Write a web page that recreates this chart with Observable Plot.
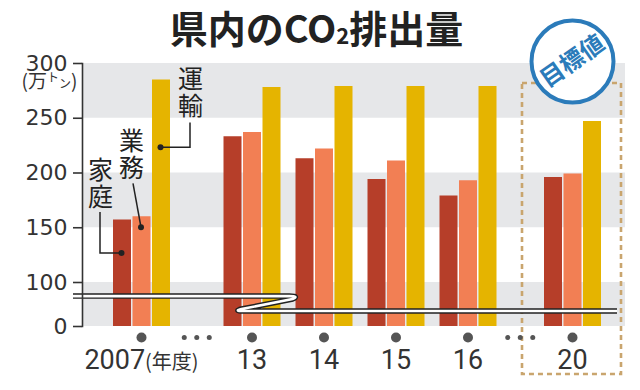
<!DOCTYPE html>
<html><head><meta charset="utf-8">
<script src="https://cdn.jsdelivr.net/npm/d3@7"></script>
<script src="https://cdn.jsdelivr.net/npm/@observablehq/plot@0.6"></script>
<style>body{margin:0;background:#fff}</style>
</head><body><div id="chart"></div>
<script>
// ---- data ----
const title = "県内のCO₂排出量";
const unitLabel = "(万トン)";
const years = [2007, 2013, 2014, 2015, 2016, 2020];
const yearLabels = ["2007(年度)", "13", "14", "15", "16", "20"];
const series = ["家庭", "業務", "運輸"];
const household = [157, 233, 213, 194, 179, 196];
const business = [160, 237, 222, 211, 193, 199];
const transport = [285, 278, 279, 279, 279, 247];
const gapYears = [2010, 2018];
const yTicks = [0, 100, 150, 200, 250, 300];
const bands = [[250, 300], [150, 200], [0, 100]];
const targetYear = 2020;
const targetLabel = "目標値";

const rows = years.flatMap((year, i) => [
  {year, series: "家庭", value: household[i]},
  {year, series: "業務", value: business[i]},
  {year, series: "運輸", value: transport[i]}
]);

const colors = {"家庭": "#b63e29", "業務": "#f27f54", "運輸": "#e5b400"};
const offsets = {"家庭": -19.5, "業務": 0, "運輸": 19.5};
const CJK = "Noto Sans CJK JP";

function decorations(index, scales, values, dim) {
  const x = scales.x, y = scales.y;
  const g = d3.create("svg:g");
  // axis break
  const x13 = x(2013);
  const yA = y(68), yB = y(34);
  const right = dim.width - dim.marginRight - 8;
  const p = `M${dim.marginLeft - 9},${yA} H${x13 + 38} Q${x13 + 48},${yA} ${x13 + 41},${yA + 3} L${x13 - 10},${yB - 2} Q${x13 - 18},${yB} ${x13 - 8},${yB} H${right}`;
  g.append("path").attr("d", p).attr("fill", "none").attr("stroke", "#222").attr("stroke-width", 5.5);
  g.append("path").attr("d", p).attr("fill", "none").attr("stroke", "#fff").attr("stroke-width", 2.6);
  return g.node();
}

function leaders(index, scales, values, dim) {
  const x0 = scales.x(2007), y = scales.y;
  const g = d3.create("svg:g").attr("fill", "none").attr("stroke", "#222").attr("stroke-width", 1.5);
  // 運輸
  g.append("path").attr("d", `M${x0 + 19.5},${y(223)} H${x0 + 49} V${y(273) + 30}`);
  // 業務
  g.append("path").attr("d", `M${x0},${y(150)} L${x0 - 8},${y(190)}`);
  // 家庭
  g.append("path").attr("d", `M${x0 - 19.5},${y(126.5)} H${x0 - 41} V${y(164)}`);
  const dots = [[x0 + 19.5, y(223)], [x0, y(150)], [x0 - 19.5, y(126.5)]];
  for (const [cx, cy] of dots) g.append("circle").attr("cx", cx).attr("cy", cy).attr("r", 3).attr("fill", "#222").attr("stroke", "none");
  return g.node();
}

const plot = Plot.plot({
  width: 640,
  height: 390,
  marginLeft: 82,
  marginRight: 15,
  marginTop: 63,
  marginBottom: 64,
  style: {background: "#fff", overflow: "visible"},
  x: {type: "linear", domain: [2007, 2013, 2016, 2020], range: [141, 251.5, 467.5, 572], axis: null},
  y: {type: "linear", domain: [0, 100, 300], range: [326, 282, 63], axis: null},
  marks: [
    Plot.rect(bands, {y1: d => d[0], y2: d => d[1], fill: "#e6e7e9"}),
    Plot.rect([targetYear], {x1: d => d, x2: d => d, y1: 281.7, y2: 0, insetLeft: -50, insetRight: -49, insetBottom: -48,
      fill: "none", stroke: "#c9a56e", strokeWidth: 2.6, strokeDasharray: "5,4"}),
    ...series.map(s => Plot.ruleX(rows.filter(d => d.series === s), {
      x: "year", y1: 0, y2: "value", stroke: colors[s], strokeWidth: 18, dx: offsets[s]
    })),
    decorations,
    Plot.frame({anchor: "left", stroke: "#333", strokeWidth: 1.6}),
    Plot.axisY({ticks: yTicks, label: null, tickSize: 9, tickPadding: 6, fontSize: 22, fontFamily: "DejaVu Sans", stroke: "#333", strokeWidth: 1.6, fill: "#333"}),
    Plot.axisX({ticks: years, label: null, tickFormat: d => yearLabels[years.indexOf(d)], tickSize: 0, tickPadding: 23, fontSize: 27, fontFamily: "Roboto", fill: "#333"}),
    Plot.dot(years, {x: d => d, frameAnchor: "bottom", dy: 11, r: 5, fill: "#555"}),
    ...[-12.5, 0, 12.5].map(dx => Plot.dot(gapYears, {x: d => d, frameAnchor: "bottom", dy: 11, dx, r: 2.5, fill: "#555"})),
    Plot.text([unitLabel], {frameAnchor: "top-left", textAnchor: "middle", lineAnchor: "middle", dx: -33, dy: 18, fontSize: 19, fontFamily: CJK, fill: "#333"}),
    Plot.text(["運\n輸"], {x: 2007, y: 273, dx: 49, fontSize: 25, lineHeight: 1.08, fontFamily: CJK, fill: "#222"}),
    Plot.text(["業\n務"], {x: 2007, y: 217, dx: -10, fontSize: 25, lineHeight: 1.08, fontFamily: CJK, fill: "#222"}),
    Plot.text(["家\n庭"], {x: 2007, y: 190, dx: -41, fontSize: 25, lineHeight: 1.08, fontFamily: CJK, fill: "#222"}),
    leaders,
    Plot.dot([targetYear], {x: d => d, frameAnchor: "top", dy: -2, r: 41, fill: "#fff", stroke: "#2b7bba", strokeWidth: 4}),
    Plot.text([targetLabel], {x: targetYear, frameAnchor: "top", lineAnchor: "middle", dy: -2, rotate: -35, fontSize: 24, fontWeight: "bold", fontFamily: CJK, fill: "#2b7bba"}),
    Plot.text([title], {frameAnchor: "top-left", textAnchor: "middle", lineAnchor: "middle", dx: 234, dy: -33, fontSize: 38, fontWeight: "bold", fontFamily: CJK, fill: "#222"})
  ]
});

// rich-text adjustments
d3.select(plot).selectAll("text").each(function() {
  const s = this.textContent;
  const t = d3.select(this);
  if (s === unitLabel) {
    t.text("");
    t.append("tspan").text("(万");
    t.append("tspan").attr("font-size", 12).attr("dy", -6).text("ト");
    t.append("tspan").attr("font-size", 12).attr("dy", 6).text("ン");
    t.append("tspan").text(")");
  } else if (s === title) {
    const [a, b] = title.split("₂");
    t.text("");
    t.append("tspan").text(a);
    t.append("tspan").attr("font-size", 22).attr("dy", 1).text("2");
    t.append("tspan").attr("dy", -1).text(b);
  } else if (s === yearLabels[0]) {
    const m = s.indexOf("(");
    t.text("");
    t.append("tspan").text(s.slice(0, m));
    t.append("tspan").attr("font-size", 20).attr("font-family", CJK).text(s.slice(m));
  }
});
document.getElementById("chart").appendChild(plot);
</script>
</body></html>
